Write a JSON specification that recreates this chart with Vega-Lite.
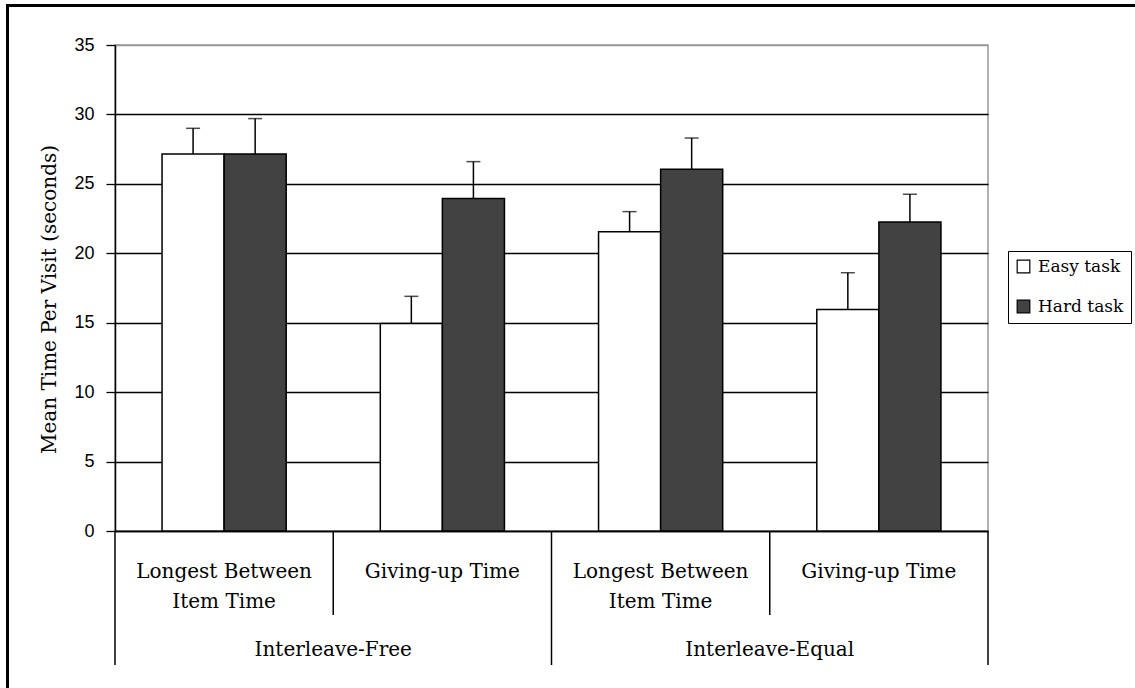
{
  "$schema": "https://vega.github.io/schema/vega-lite/v6.json",
  "width": 873,
  "height": 486,
  "autosize": {"type": "none"},
  "padding": {"left": 115, "top": 45, "right": 147, "bottom": 157},
  "background": "white",
  "config": {"view": {"stroke": "#999999", "strokeWidth": 1.5}, "font": "DejaVu Serif"},
  "datasets": {
    "bars": [
      {"group": "Interleave-Free", "cat": "Longest Between Item Time (Interleave-Free)", "measure": "Longest Between Item Time", "task": "Easy task", "mean": 27.15, "upper": 29.0},
      {"group": "Interleave-Free", "cat": "Longest Between Item Time (Interleave-Free)", "measure": "Longest Between Item Time", "task": "Hard task", "mean": 27.15, "upper": 29.7},
      {"group": "Interleave-Free", "cat": "Giving-up Time (Interleave-Free)", "measure": "Giving-up Time", "task": "Easy task", "mean": 14.95, "upper": 16.9},
      {"group": "Interleave-Free", "cat": "Giving-up Time (Interleave-Free)", "measure": "Giving-up Time", "task": "Hard task", "mean": 23.95, "upper": 26.6},
      {"group": "Interleave-Equal", "cat": "Longest Between Item Time (Interleave-Equal)", "measure": "Longest Between Item Time", "task": "Easy task", "mean": 21.55, "upper": 23.0},
      {"group": "Interleave-Equal", "cat": "Longest Between Item Time (Interleave-Equal)", "measure": "Longest Between Item Time", "task": "Hard task", "mean": 26.05, "upper": 28.3},
      {"group": "Interleave-Equal", "cat": "Giving-up Time (Interleave-Equal)", "measure": "Giving-up Time", "task": "Easy task", "mean": 15.95, "upper": 18.6},
      {"group": "Interleave-Equal", "cat": "Giving-up Time (Interleave-Equal)", "measure": "Giving-up Time", "task": "Hard task", "mean": 22.25, "upper": 24.25}
    ]
  },
  "layer": [
    {
      "data": {"values": [{"frame": "outer"}]},
      "mark": {"type": "rect", "fillOpacity": 0, "stroke": "black", "strokeWidth": 3},
      "encoding": {
        "x": {"value": -107.5},
        "x2": {"value": 1100},
        "y": {"value": -39.5},
        "y2": {"value": 700}
      }
    },
    {
      "data": {"name": "bars"},
      "layer": [
        {
          "mark": {"type": "bar", "stroke": "black", "strokeWidth": 1.5},
          "encoding": {
            "x": {
              "field": "cat", "type": "nominal",
              "scale": {"domain": ["Longest Between Item Time (Interleave-Free)", "Giving-up Time (Interleave-Free)", "Longest Between Item Time (Interleave-Equal)", "Giving-up Time (Interleave-Equal)"], "paddingInner": 0, "paddingOuter": 0},
              "axis": {
                "title": null, "ticks": false, "domainColor": "black", "domainWidth": 1.5,
                "labelAngle": 0, "labelFont": "DejaVu Serif", "labelFontSize": 20, "labelColor": "black",
                "labelLineHeight": 30, "labelPadding": 30, "labelLimit": 0, "labelOverlap": false,
                "labelExpr": "indexof(datum.value, 'Longest') >= 0 ? ['Longest Between', 'Item Time'] : 'Giving-up Time'"
              }
            },
            "xOffset": {"field": "task", "type": "nominal", "scale": {"domain": ["Easy task", "Hard task"], "paddingInner": 0, "paddingOuter": 0.758}},
            "y": {
              "field": "mean", "type": "quantitative",
              "scale": {"domain": [0, 35], "nice": false},
              "axis": {
                "values": [0, 5, 10, 15, 20, 25, 30, 35],
                "grid": true,
                "gridColor": {"condition": {"test": "datum.value === 35", "value": "#999999"}, "value": "black"},
                "gridWidth": 1.3, "gridOpacity": 1,
                "domainColor": "black", "domainWidth": 1.5,
                "tickColor": "black", "tickSize": 9, "tickWidth": 1.3,
                "labelFont": "Liberation Sans", "labelFontSize": 18, "labelColor": "black", "labelPadding": 12,
                "title": "Mean Time Per Visit (seconds)",
                "titleFont": "DejaVu Serif", "titleFontSize": 20, "titleFontWeight": "normal", "titleColor": "black",
                "titleX": -60, "titleY": 254, "titleAngle": 270, "titleAlign": "center", "titleBaseline": "alphabetic"
              }
            },
            "fill": {
              "field": "task", "type": "nominal",
              "scale": {"domain": ["Easy task", "Hard task"], "range": ["#ffffff", "#424242"]},
              "legend": {
                "orient": "none", "legendX": 893, "legendY": 206, "title": null,
                "symbolType": "square", "symbolSize": 160, "symbolStrokeColor": "black", "symbolStrokeWidth": 1.2,
                "labelFont": "DejaVu Serif", "labelFontSize": 17, "labelColor": "black", "labelOffset": 6,
                "rowPadding": 21, "padding": 7, "strokeColor": "black", "fillColor": "white"
              }
            }
          }
        },
        {
          "mark": {"type": "rule", "color": "black", "strokeWidth": 1.5},
          "encoding": {
            "x": {"field": "cat", "type": "nominal"},
            "xOffset": {"field": "task", "type": "nominal"},
            "y": {"field": "mean", "type": "quantitative"},
            "y2": {"field": "upper"}
          }
        },
        {
          "mark": {"type": "tick", "orient": "horizontal", "color": "black", "size": 14, "thickness": 1.5},
          "encoding": {
            "x": {"field": "cat", "type": "nominal"},
            "xOffset": {"field": "task", "type": "nominal"},
            "y": {"field": "upper", "type": "quantitative"}
          }
        },
        {
          "transform": [
            {"filter": "datum.measure === 'Giving-up Time'"},
            {"aggregate": [{"op": "count", "as": "n"}], "groupby": ["cat"]}
          ],
          "mark": {"type": "rule", "color": "black", "strokeWidth": 1.5},
          "encoding": {
            "x": {"field": "cat", "type": "nominal", "bandPosition": 0},
            "y": {"datum": 0, "type": "quantitative"},
            "y2": {"datum": -6.05}
          }
        }
      ]
    },
    {
      "data": {"name": "bars"},
      "transform": [{"aggregate": [{"op": "count", "as": "n"}], "groupby": ["group"]}],
      "layer": [
        {
          "mark": {"type": "text", "font": "DejaVu Serif", "fontSize": 20, "color": "black", "baseline": "middle"},
          "encoding": {
            "x": {"field": "group", "type": "nominal", "scale": {"domain": ["Interleave-Free", "Interleave-Equal"], "paddingInner": 0, "paddingOuter": 0}, "axis": null},
            "y": {"datum": -8.6, "type": "quantitative"},
            "text": {"field": "group"}
          }
        },
        {
          "mark": {"type": "rule", "color": "black", "strokeWidth": 1.5},
          "encoding": {
            "x": {"field": "group", "type": "nominal", "bandPosition": 0, "axis": null},
            "y": {"datum": 0, "type": "quantitative"},
            "y2": {"datum": -9.65}
          }
        },
        {
          "transform": [{"filter": "datum.group === 'Interleave-Equal'"}],
          "mark": {"type": "rule", "color": "black", "strokeWidth": 1.5},
          "encoding": {
            "x": {"field": "group", "type": "nominal", "bandPosition": 1, "axis": null},
            "y": {"datum": 0, "type": "quantitative"},
            "y2": {"datum": -9.65}
          }
        }
      ]
    }
  ],
  "resolve": {"scale": {"x": "independent"}, "axis": {"x": "independent"}}
}
